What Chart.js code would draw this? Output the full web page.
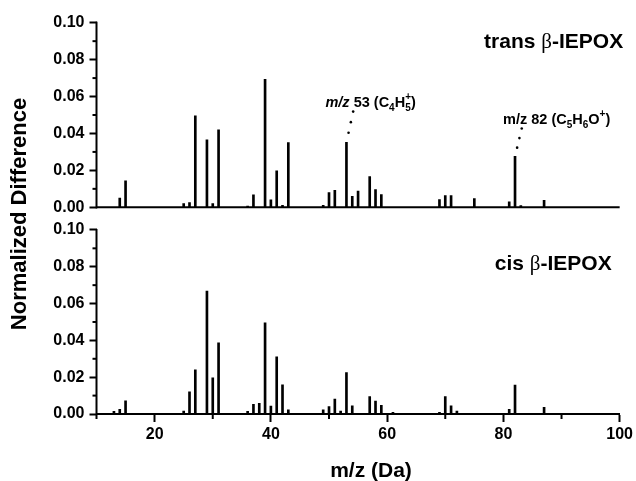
<!DOCTYPE html>
<html>
<head>
<meta charset="utf-8">
<script src="https://cdn.jsdelivr.net/npm/chart.js@4"></script>
<style>
    body { margin: 0; background: #fff; }
    #wrap { width: 636px; height: 481px; position: relative; }
</style>
</head>
<body>
<div id="wrap"><canvas id="msChart"></canvas></div>
<script>
// trans beta-IEPOX (top panel)
var transMz = [14, 15, 25, 26, 27, 29, 30, 31, 36, 37, 39, 40, 41, 42, 43, 49, 50, 51, 53, 54, 55, 57, 58, 59, 69, 70, 71, 75, 81, 82, 83, 87];
var transVal = [0.005, 0.0143, 0.002, 0.0025, 0.0496, 0.0365, 0.002, 0.042, 0.0007, 0.0067, 0.0693, 0.004, 0.0197, 0.001, 0.035, 0.001, 0.008, 0.0092, 0.0352, 0.006, 0.0088, 0.0166, 0.0096, 0.0069, 0.0042, 0.0063, 0.0063, 0.0047, 0.0029, 0.0276, 0.0009, 0.0038];

// cis beta-IEPOX (bottom panel)
var cisMz = [13, 14, 15, 25, 26, 27, 29, 30, 31, 36, 37, 38, 39, 40, 41, 42, 43, 49, 50, 51, 52, 53, 54, 57, 58, 59, 61, 69, 70, 71, 72, 81, 82, 87];
var cisVal = [0.0014, 0.0025, 0.0072, 0.0016, 0.012, 0.024, 0.0668, 0.0196, 0.0387, 0.0014, 0.0052, 0.0058, 0.0495, 0.0043, 0.031, 0.0159, 0.0022, 0.0022, 0.004, 0.0081, 0.0016, 0.0225, 0.0045, 0.0094, 0.007, 0.0047, 0.0009, 0.0009, 0.0094, 0.0045, 0.0016, 0.0025, 0.0157, 0.0036];

// axes
var xMin = 10, xMax = 100;
var xTicks = [20, 40, 60, 80, 100];
var xMinor = [10, 30, 50, 70, 90];
var yMax = 0.10;
var yTicks = [0, 0.02, 0.04, 0.06, 0.08, 0.10];
var yMinor = [0.01, 0.03, 0.05, 0.07, 0.09];

var SANS = '"Liberation Sans", Arial, sans-serif';
var SERIF = '"Liberation Serif", "Times New Roman", serif';

function toPoints(mz, val) {
    return mz.map(function (m, i) { return { x: m, y: val[i] }; });
}

// draws a line of text made of pieces in different fonts (sub/superscripts)
function drawRuns(c, runs, x, y) {
    var lastStart = x;
    runs.forEach(function (r) {
        c.font = r.f;
        var w = c.measureText(r.t).width;
        if (r.over) {
            c.fillText(r.t, lastStart, y + (r.dy || 0));
            x = Math.max(x, lastStart + w);
        } else {
            lastStart = x;
            c.fillText(r.t, x, y + (r.dy || 0));
            x += w;
        }
    });
}

function runsWidth(c, runs) {
    var x = 0, lastStart = 0;
    runs.forEach(function (r) {
        c.font = r.f;
        var w = c.measureText(r.t).width;
        if (r.over) { x = Math.max(x, lastStart + w); } else { lastStart = x; x += w; }
    });
    return x;
}

var big = 'bold 21px ' + SANS, beta = '21px ' + SERIF;
var lab = 'bold 14.5px ' + SANS, sub = 'bold 10px ' + SANS;

var transLabel = [{ t: 'trans ', f: big }, { t: 'β', f: beta }, { t: '-IEPOX', f: big }];
var cisLabel = [{ t: 'cis ', f: big }, { t: 'β', f: beta }, { t: '-IEPOX', f: big }];
var ann53 = [
    { t: 'm/z', f: 'italic ' + lab }, { t: ' 53 (C', f: lab }, { t: '4', f: sub, dy: 4 },
    { t: 'H', f: lab }, { t: '5', f: sub, dy: 4 }, { t: '+', f: sub, dy: -7, over: true }, { t: ')', f: lab }
];
var ann82 = [
    { t: 'm/z 82 (C', f: lab }, { t: '5', f: sub, dy: 4 }, { t: 'H', f: lab }, { t: '6', f: sub, dy: 4 },
    { t: 'O', f: lab }, { t: '+', f: sub, dy: -7 }, { t: ')', f: lab }
];

var decor = {
    id: 'decor',
    afterDraw: function (chart) {
        var c = chart.ctx, a = chart.chartArea;
        var xs = chart.scales.x, top = chart.scales.yTop, bot = chart.scales.yBot;
        c.save();
        c.strokeStyle = '#000';
        c.fillStyle = '#000';
        c.lineWidth = 2;

        // left axis line of each panel, with minor ticks
        [top, bot].forEach(function (s) {
            c.beginPath();
            c.moveTo(a.left, s.getPixelForValue(yMax) - 1);
            c.lineTo(a.left, s.getPixelForValue(0) + 1);
            c.stroke();
            yMinor.forEach(function (v) {
                var py = s.getPixelForValue(v);
                c.beginPath();
                c.moveTo(a.left - 4, py);
                c.lineTo(a.left, py);
                c.stroke();
            });
        });

        // baseline of the top panel
        var y0 = top.getPixelForValue(0);
        c.beginPath();
        c.moveTo(a.left, y0);
        c.lineTo(a.right, y0);
        c.stroke();

        // minor x ticks
        xMinor.forEach(function (v) {
            var px = xs.getPixelForValue(v);
            c.beginPath();
            c.moveTo(px, a.bottom);
            c.lineTo(px, a.bottom + 5);
            c.stroke();
        });

        // axis titles
        c.textBaseline = 'middle';
        c.textAlign = 'center';
        c.font = 'bold 21px ' + SANS;
        c.fillText('m/z (Da)', 371, 471);
        c.save();
        c.translate(20, 214);
        c.rotate(-Math.PI / 2);
        c.font = 'bold 22px ' + SANS;
        c.fillText('Normalized Difference', 0, 0);
        c.restore();

        // panel labels
        c.textAlign = 'left';
        c.textBaseline = 'alphabetic';
        drawRuns(c, transLabel, a.right + 3.5 - runsWidth(c, transLabel), top.getPixelForValue(0.0905) + 7.5);
        drawRuns(c, cisLabel, a.right - 8 - runsWidth(c, cisLabel), bot.getPixelForValue(0.0825) + 7.5);

        // peak annotations with dotted leaders
        var notes = [
            { mz: 53, runs: ann53, dx: -21, dy: -40 },
            { mz: 82, runs: ann82, dx: -12, dy: -37 }
        ];
        notes.forEach(function (n) {
            var px = xs.getPixelForValue(n.mz);
            var py = top.getPixelForValue(transVal[transMz.indexOf(n.mz)]);
            var ty = py + n.dy;
            drawRuns(c, n.runs, px + n.dx, ty + 5);
            var ex = px + 7, ey = ty + 8;
            [0.3, 0.63, 0.96].forEach(function (t) {
                c.beginPath();
                c.arc(px + (ex - px) * t, py + (ey - py) * t, 1.3, 0, Math.PI * 2);
                c.fill();
            });
        });
        c.restore();
    }
};

var tickFont = { family: SANS, size: 16, weight: 'bold' };

function yAxis(weight, max) {
    return {
        type: 'linear',
        position: 'left',
        stack: 'panels',
        stackWeight: weight,
        min: 0,
        max: max,
        afterBuildTicks: function (s) {
            s.ticks = yTicks.map(function (v) { return { value: v }; });
        },
        ticks: {
            autoSkip: false,
            color: '#000',
            font: tickFont,
            padding: 5,
            callback: function (v) { return v.toFixed(2); }
        },
        grid: { drawOnChartArea: false, tickLength: 7, tickWidth: 2, tickColor: '#000' },
        border: { display: false },
        afterFit: function (s) { s.width = 60; }
    };
}

var ctx = document.getElementById('msChart').getContext('2d');
var msChart = new Chart(ctx, {
    type: 'bar',
    data: {
        datasets: [{
            label: 'cis β-IEPOX',
            data: toPoints(cisMz, cisVal),
            yAxisID: 'yBot',
            backgroundColor: '#000',
            borderWidth: 0,
            barThickness: 2,
            grouped: false
        }, {
            label: 'trans β-IEPOX',
            data: toPoints(transMz, transVal),
            yAxisID: 'yTop',
            backgroundColor: '#000',
            borderWidth: 0,
            barThickness: 2,
            grouped: false
        }]
    },
    options: {
        responsive: true,
        maintainAspectRatio: false,
        animation: false,
        layout: { padding: { left: 36.5, right: 14.5, top: 22.7, bottom: 0 } },
        plugins: {
            legend: { display: false },
            tooltip: { enabled: false },
            colors: { enabled: false }
        },
        scales: {
            x: {
                type: 'linear',
                min: xMin,
                max: xMax,
                offset: false,
                afterBuildTicks: function (s) {
                    s.ticks = xTicks.map(function (v) { return { value: v }; });
                },
                ticks: { autoSkip: false, color: '#000', font: tickFont, padding: 3 },
                grid: { offset: false, drawOnChartArea: false, tickLength: 8, tickWidth: 2, tickColor: '#000' },
                border: { color: '#000', width: 2 },
                afterFit: function (s) { s.height = 67; }
            },
            yBot: yAxis(206.7, 0.1123),
            yTop: yAxis(184.6, yMax)
        }
    },
    plugins: [decor]
});
</script>
</body>
</html>
